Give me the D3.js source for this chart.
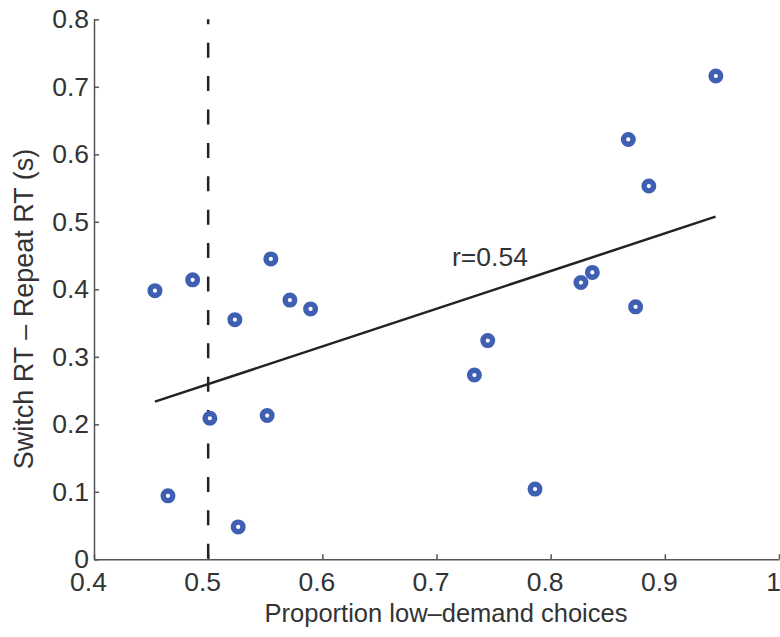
<!DOCTYPE html>
<html>
<head>
<meta charset="utf-8">
<script src="https://cdn.jsdelivr.net/npm/d3@7"></script>
<style>
  html, body { margin: 0; padding: 0; background: #fff; }
  svg text { font-family: "Liberation Sans", Arial, Helvetica, sans-serif; fill: #333; }
</style>
</head>
<body>
<svg id="chart" width="780" height="637"></svg>
<script>
// ── data ──
const propLowDemand = [0.4534, 0.4648, 0.4864, 0.5015, 0.5234, 0.5263, 0.5517, 0.5549, 0.5716, 0.5897,
                       0.7332, 0.7449, 0.7863, 0.8265, 0.8365, 0.8680, 0.8744, 0.8860, 0.9447];
const switchCost    = [0.398, 0.094, 0.414, 0.209, 0.355, 0.048, 0.213, 0.445, 0.384, 0.371,
                       0.273, 0.324, 0.104, 0.410, 0.425, 0.622, 0.374, 0.553, 0.716];
const fitLine = [[0.4534, 0.2335], [0.9444, 0.5076]];
const chanceLevel = 0.5;
const xTicks = [0.4, 0.5, 0.6, 0.7, 0.8, 0.9, 1];
const yTicks = [0, 0.1, 0.2, 0.3, 0.4, 0.5, 0.6, 0.7, 0.8];
const rLabel = 'r=0.54';

const svg = d3.select('#chart');
const x = d3.scaleLinear().domain([0.4, 1]).range([94, 779]);
const y = d3.scaleLinear().domain([0, 0.8]).range([559.3, 19.3]);

const tickFmt = d => d === 0 ? '0' : d === 1 ? '1' : d3.format('.1f')(d);

// x axis
const xAxis = svg.append('g').attr('transform', `translate(0,${y(0)})`)
  .call(d3.axisBottom(x).tickValues(xTicks).tickSizeInner(-5).tickSizeOuter(0).tickFormat(tickFmt));
// y axis
const yAxis = svg.append('g').attr('transform', `translate(${x(0.4)},0)`)
  .call(d3.axisLeft(y).tickValues(yTicks).tickSizeInner(-5).tickSizeOuter(0).tickFormat(tickFmt));

[xAxis, yAxis].forEach(ax => {
  ax.select('.domain').attr('stroke', '#555').attr('stroke-width', 1.5);
  ax.selectAll('.tick line').attr('stroke', '#555').attr('stroke-width', 1.5);
  ax.selectAll('.tick text').attr('font-size', 26.5).attr('fill', '#333')
    .style('font-family', '"Liberation Sans", Arial, sans-serif');
});
xAxis.selectAll('.tick text').attr('y', 13).attr('dy', '0.71em').attr('dx', -6);
yAxis.selectAll('.tick text').attr('x', -5);

// chance line
svg.append('line')
  .attr('x1', x(chanceLevel)).attr('x2', x(chanceLevel))
  .attr('y1', y(0.8)).attr('y2', y(0))
  .attr('stroke', '#222').attr('stroke-width', 2.5)
  .attr('stroke-dasharray', '15,18.4').attr('stroke-dashoffset', 10);

// regression line
svg.append('line')
  .attr('x1', x(fitLine[0][0])).attr('y1', y(fitLine[0][1]))
  .attr('x2', x(fitLine[1][0])).attr('y2', y(fitLine[1][1]))
  .attr('stroke', '#222').attr('stroke-width', 2.5);

svg.append('text')
  .attr('x', 452).attr('y', 266)
  .attr('font-size', 26.5)
  .text(rLabel);

// points
svg.selectAll('.pt').data(propLowDemand.map((v, i) => [v, switchCost[i]]))
  .enter().append('circle').attr('class', 'pt')
  .attr('cx', d => x(d[0])).attr('cy', d => y(d[1]))
  .attr('r', 4.8)
  .attr('fill', '#fff')
  .attr('stroke', '#3f5fb2').attr('stroke-width', 5.4);

// axis labels
svg.append('text')
  .attr('x', 446).attr('y', 622)
  .attr('text-anchor', 'middle').attr('font-size', 25.5)
  .text('Proportion low\u2013demand choices');

svg.append('text')
  .attr('transform', 'translate(33,309) rotate(-90)')
  .attr('text-anchor', 'middle').attr('font-size', 27)
  .text('Switch RT \u2013 Repeat RT (s)');
</script>
</body>
</html>
